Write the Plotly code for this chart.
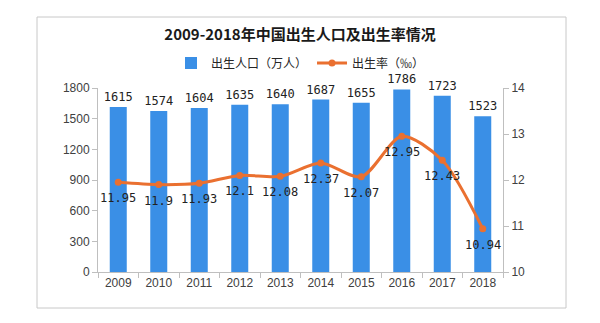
import plotly.graph_objects as go

years = ["2009", "2010", "2011", "2012", "2013", "2014", "2015", "2016", "2017", "2018"]
births = [1615, 1574, 1604, 1635, 1640, 1687, 1655, 1786, 1723, 1523]
rate = [11.95, 11.9, 11.93, 12.1, 12.08, 12.37, 12.07, 12.95, 12.43, 10.94]
rate_labels = ["11.95", "11.9", "11.93", "12.1", "12.08", "12.37", "12.07", "12.95", "12.43", "10.94"]

blue = "#3a8fe6"
orange = "#ea7030"
label_font = dict(family="DejaVu Sans Mono", size=12, color="#222222")
tick_font = dict(family="Liberation Sans", size=12, color="#404040")

fig = go.Figure()
fig.add_trace(go.Bar(
    x=years, y=births, name="出生人口（万人）",
    marker=dict(color=blue, line=dict(width=0)),
    width=0.42,
    text=[str(v) for v in births], textposition="outside", constraintext="none",
    textfont=label_font, cliponaxis=False,
))
fig.add_trace(go.Scatter(
    x=years, y=rate, name="出生率（‰）", yaxis="y2",
    mode="lines+markers",
    line=dict(color=orange, width=3, shape="spline", smoothing=0.8),
    marker=dict(color=orange, size=7),
    cliponaxis=False,
))
for i, (v, lab) in enumerate(zip(rate, rate_labels)):
    fig.add_annotation(x=i, y=v, xref="x", yref="y2", text=lab, showarrow=False,
                       yshift=-16, font=label_font)

axis_line = "#bfbfbf"
fig.update_layout(
    width=600, height=323,
    margin=dict(l=98, r=97, t=88, b=51),
    paper_bgcolor="white", plot_bgcolor="white",
    font=dict(family="Noto Sans CJK SC", color="#262626"),
    title=dict(text="<b>2009-2018年中国出生人口及出生率情况</b>",
               x=0.5, xanchor="center", y=1 - 35 / 323, yanchor="middle",
               font=dict(family="Noto Sans CJK SC", size=15, color="#1a1a1a")),
    showlegend=True,
    legend=dict(orientation="h", x=0.5, xanchor="center", y=1 + (88 - 63) / 184, yanchor="middle",
                font=dict(family="Noto Sans CJK SC", size=12, color="#262626"),
                bgcolor="rgba(0,0,0,0)", itemwidth=30, traceorder="normal"),
    bargap=0.58,
    xaxis=dict(
        type="category", range=[-0.5, 9.5], showgrid=False, showline=True, linecolor=axis_line, linewidth=1,
        ticks="outside", tickson="boundaries", ticklen=5, tickcolor=axis_line,
        tickfont=tick_font,
    ),
    yaxis=dict(
        range=[0, 1800], dtick=300, showgrid=False, showline=True, linecolor=axis_line,
        ticks="outside", ticklen=5, tickcolor=axis_line, tickfont=tick_font, zeroline=False,
    ),
    yaxis2=dict(
        range=[10, 14], dtick=1, overlaying="y", side="right", showgrid=False,
        showline=True, linecolor=axis_line, ticks="outside", ticklen=5, tickcolor=axis_line,
        tickfont=tick_font, zeroline=False,
    ),
)

# outer frame
pw, ph = 405, 184
fig.add_shape(type="rect", xref="paper", yref="paper",
              x0=(37 - 98) / pw, x1=(566 - 98) / pw,
              y0=(272 - 308) / ph, y1=(272 - 17) / ph,
              line=dict(color="#c8c8c8", width=1), fillcolor="rgba(0,0,0,0)", layer="below")

fig.write_html("out.html")
